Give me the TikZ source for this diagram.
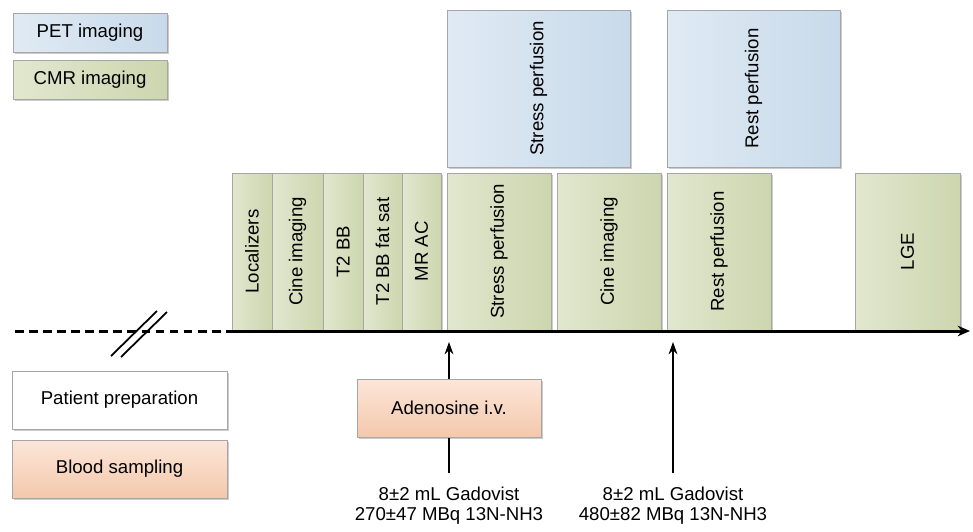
\documentclass[tikz,border=0pt]{standalone}
\usepackage{fontspec}
\setmainfont{Liberation Sans}
\usepackage{xcolor}
\usetikzlibrary{arrows.meta, positioning, calc, shadows}

\definecolor{greenL}{RGB}{226,231,207}
\definecolor{greenR}{RGB}{204,214,174}
\definecolor{blueL}{RGB}{224,234,244}
\definecolor{blueR}{RGB}{200,218,234}
\definecolor{orangeT}{RGB}{252,230,216}
\definecolor{orangeB}{RGB}{244,200,172}
\definecolor{boxline}{RGB}{166,166,166}

\begin{document}
\begin{tikzpicture}[x=0.02cm, y=-0.02cm,
    every node/.style={font=\fontsize{10.6}{11.6}\selectfont, inner sep=0pt},
    box/.style={draw=boxline, line width=0.5pt,
        drop shadow={shadow xshift=0.04cm, shadow yshift=-0.04cm, opacity=0.2, fill=black}},
    cmr/.style={box, left color=greenL, right color=greenR, minimum height=3.14cm},
    pet/.style={box, left color=blueL, right color=blueR},
    blood/.style={box, top color=orangeT, bottom color=orangeB},
    prep/.style={box, fill=white}]
    \useasboundingbox (0,0) rectangle (973,531);

    % legend
    \node[pet, minimum width=3.08cm, minimum height=0.78cm] (legpet) at (90,32.5) {PET imaging};
    \node[cmr, minimum width=3.08cm, minimum height=0.78cm] (legcmr) at (90,79.5) {CMR imaging};

    % PET blocks
    \node[pet, minimum width=3.66cm, minimum height=3.14cm] (petstress) at (538.5,88.5) {\rotatebox{90}{Stress perfusion}};
    \node[pet, minimum width=3.46cm, minimum height=3.14cm] (petrest) at (753.5,88.5) {\rotatebox{90}{Rest perfusion}};

    % CMR blocks
    \node[cmr, minimum width=0.80cm] (loc) at (252,251.5) {\rotatebox{90}{Localizers}};
    \node[cmr, minimum width=1.02cm] (cine) at (297.5,251.5) {\rotatebox{90}{Cine imaging}};
    \node[cmr, minimum width=0.80cm] (ttbb) at (343,251.5) {\rotatebox{90}{T2 BB}};
    \node[cmr, minimum width=0.78cm] (ttfat) at (382.5,251.5) {\rotatebox{90}{T2 BB fat sat}};
    \node[cmr, minimum width=0.78cm] (mrac) at (421.5,251.5) {\rotatebox{90}{MR AC}};
    \node[cmr, minimum width=2.08cm] (stress) at (499,251.5) {\rotatebox{90}{Stress perfusion}};
    \node[cmr, minimum width=2.08cm] (cinetwo) at (609,251.5) {\rotatebox{90}{Cine imaging}};
    \node[cmr, minimum width=2.08cm] (rest) at (719,251.5) {\rotatebox{90}{Rest perfusion}};
    \node[cmr, minimum width=2.10cm] (lge) at (907.5,251.5) {\rotatebox{90}{LGE}};

    % time axis
    \coordinate (start) at (15,331);
    \coordinate (t0) at (230,331);
    \coordinate (tend) at (970,331);
    \draw[line width=1.7pt, dash pattern=on 5pt off 3pt] (start) -- (t0);
    \draw[line width=1.7pt, -{Stealth[length=7pt, width=6pt]}] (t0) -- (tend);
    \draw[line width=1pt] (111,356) -- (157,311);
    \draw[line width=1pt] (121,357) -- (167,312);

    % injections
    \node[align=center, font=\fontsize{10.6}{11.4}\selectfont] (dose1) at (449,506) {8±2 mL Gadovist\\270±47 MBq 13N-NH3};
    \node[align=center, font=\fontsize{10.6}{11.4}\selectfont] (dose2) at (673,506) {8±2 mL Gadovist\\480±82 MBq 13N-NH3};
    \coordinate (inj1) at (449,473);
    \coordinate (hit1) at (449,342);
    \coordinate (inj2) at (673,473);
    \coordinate (hit2) at (673,342);
    \draw[line width=0.6pt, -{Stealth[length=7pt, width=5pt]}] (inj1) -- (hit1);
    \draw[line width=0.6pt, -{Stealth[length=7pt, width=5pt]}] (inj2) -- (hit2);
    \node[blood, minimum width=3.68cm, minimum height=1.16cm] (adeno) at (449,408) {Adenosine i.v.};

    % bottom legend
    \node[prep, minimum width=4.3cm, minimum height=1.16cm] (patprep) at (119.5,400) {Patient preparation};
    \node[blood, minimum width=4.3cm, minimum height=1.16cm] (bloodsamp) at (119.5,469) {Blood sampling};
\end{tikzpicture}
\end{document}
